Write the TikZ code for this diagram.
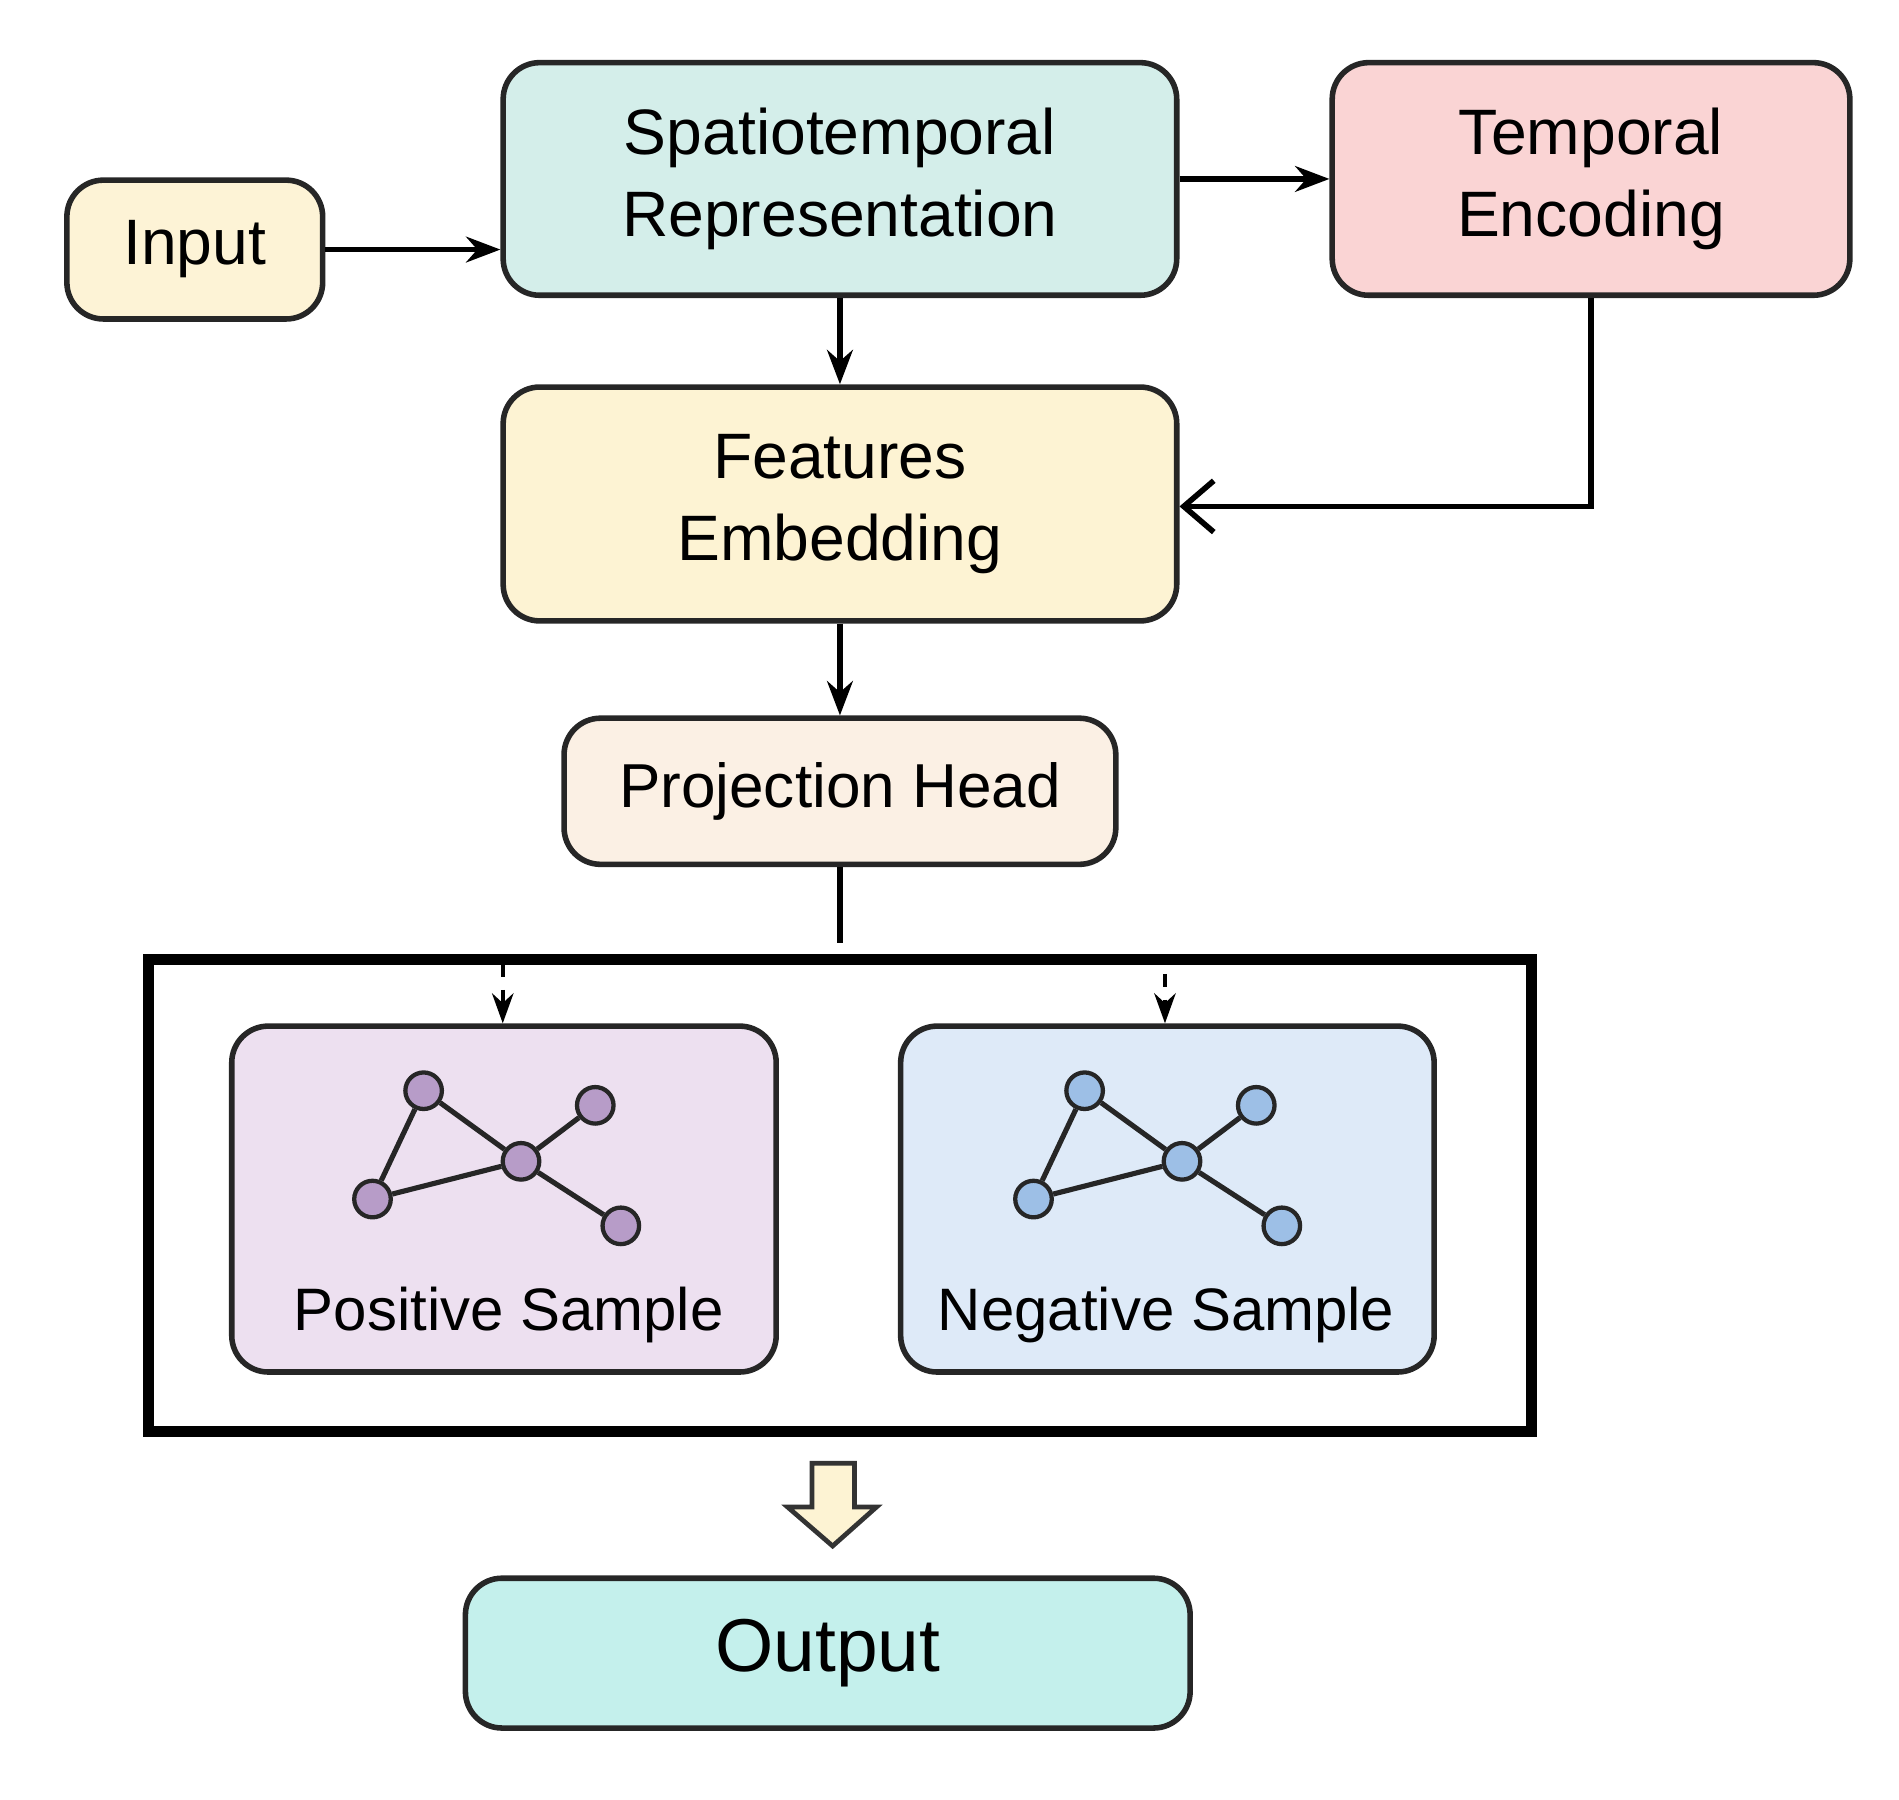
\documentclass[tikz,border=0pt]{standalone}
\usepackage{fontspec}
\setmainfont{Liberation Sans}
\usetikzlibrary{arrows.meta}
\definecolor{cin}{HTML}{FDF3D6}
\definecolor{csp}{HTML}{D4EEEA}
\definecolor{cte}{HTML}{FAD4D4}
\definecolor{cfe}{HTML}{FDF3D3}
\definecolor{cpr}{HTML}{FBF0E4}
\definecolor{cpo}{HTML}{EDE0F0}
\definecolor{cne}{HTML}{DEEAF8}
\definecolor{cou}{HTML}{C4F0EC}
\definecolor{gpo}{HTML}{B79CC8}
\definecolor{gne}{HTML}{9DBFE6}
\begin{document}
\begin{tikzpicture}[x=0.01cm,y=-0.01cm,
 box/.style={draw=black!85,line width=1.3pt,rounded corners=0.3cm,align=center,inner sep=0pt,font=\fontsize{15}{19}\selectfont},
 arr/.style={-{Stealth[length=8pt,width=6pt]},line width=1.3pt},
 dar/.style={-{Stealth[length=7pt,width=5pt]},line width=1pt,dashed},
 gn/.style={circle,draw=black!85,line width=1pt,minimum size=0.3cm,inner sep=0pt},
 ge/.style={line width=1.2pt,black!85}]
\useasboundingbox (0,0) rectangle (1560,1478);
\node[box,fill=cin,minimum width=2.1cm,minimum height=1.14cm] (in) at (160,205) {Input};
\node[box,fill=csp,minimum width=5.53cm,minimum height=1.91cm] (sp) at (690,147) {Spatiotemporal\\Representation};
\node[box,fill=cte,minimum width=4.25cm,minimum height=1.91cm] (te) at (1307,147) {Temporal\\Encoding};
\node[box,fill=cfe,minimum width=5.53cm,minimum height=1.92cm] (fe) at (690,414) {Features\\Embedding};
\node[box,fill=cpr,minimum width=4.53cm,minimum height=1.2cm,font=\fontsize{14.5}{18}\selectfont] (pr) at (690,650) {Projection Head};
\node[draw=black,line width=2.6pt,minimum width=11.35cm,minimum height=3.88cm,inner sep=0pt] (fr) at (690,982) {};
\node[box,fill=cpo,minimum width=4.47cm,minimum height=2.84cm] (po) at (414,985) {};
\node[box,fill=cne,minimum width=4.38cm,minimum height=2.84cm] (ne) at (959,985) {};
\node[font=\fontsize{14}{17}\selectfont] (pot) at (418,1080) {Positive Sample};
\node[font=\fontsize{14}{17}\selectfont] (net) at (958,1080) {Negative Sample};
\node[box,fill=cou,minimum width=5.95cm,minimum height=1.23cm,font=\fontsize{17.5}{21}\selectfont] (ou) at (680,1358) {Output};
% graphs
\foreach \p/\c/\dx in {p/gpo/0,n/gne/543}{
 \node[gn,fill=\c] (\p1) at (348+\dx,896) {};
 \node[gn,fill=\c] (\p2) at (489+\dx,908) {};
 \node[gn,fill=\c] (\p3) at (428+\dx,954) {};
 \node[gn,fill=\c] (\p4) at (306+\dx,985) {};
 \node[gn,fill=\c] (\p5) at (510+\dx,1007) {};
 \draw[ge] (\p1)--(\p3) (\p1)--(\p4) (\p4)--(\p3) (\p3)--(\p2) (\p3)--(\p5);
}
% connectors
\draw[arr] (in.east) -- (in.east -| sp.west);
\draw[arr] (sp.east |- 0,147) -- (te.west |- 0,147);
\draw[arr] (sp.south) -- (fe.north);
\draw[line width=1.3pt,-{Straight Barb[length=7pt,width=12pt]}] (te.south) -- (1307,416) -- (fe.east |- 0,416);
\draw[arr] (fe.south) -- (pr.north);
\coordinate (dd) at (690,775);
\draw[line width=1.3pt,dashed,dash pattern=on 22pt off 8pt] (pr.south) -- (dd);
\coordinate (pa) at (413,792);
\coordinate (na) at (957,800);
\draw[dar] (pa) -- (pa |- po.north);
\draw[dar] (na) -- (na |- ne.north);
% block arrow
\draw[line width=1.1pt,fill=cfe,draw=black!80] (667,1202) -- (702,1202) -- (702,1238) -- (720,1238) -- (684,1270) -- (647,1238) -- (667,1238) -- cycle;
\end{tikzpicture}
\end{document}
